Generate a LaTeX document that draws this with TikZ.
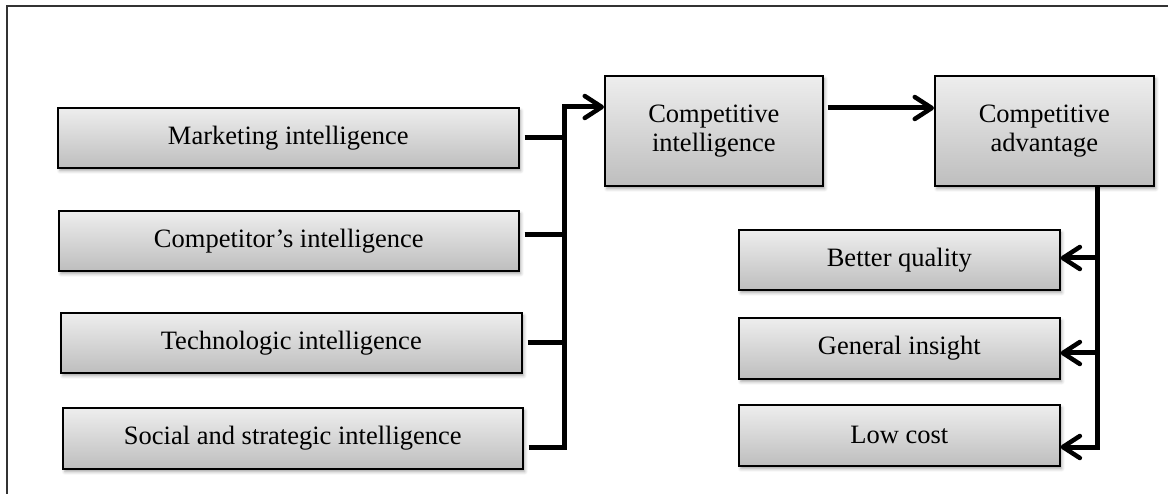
\documentclass[tikz,border=0pt]{standalone}
\usepackage{fontspec}
\setmainfont{Liberation Serif}
\usetikzlibrary{arrows.meta,shadows.blur}
\definecolor{boxtop}{RGB}{238,238,238}
\definecolor{boxbot}{RGB}{190,190,190}
\begin{document}
\begin{tikzpicture}[x=1pt,y=-1pt,
  box/.style={draw=black, line width=1.6pt, top color=boxtop, bottom color=boxbot,
    blur shadow={shadow xshift=2pt, shadow yshift=-3pt, shadow blur radius=3pt, shadow opacity=35},
    font=\fontsize{26.5}{29}\selectfont, align=center, inner sep=0pt, anchor=north west},
  conn/.style={line width=5pt, line cap=butt, line join=miter},
  arr/.style={conn, -{Straight Barb[length=17pt,width=22pt,line width=4.5pt,round]}}
]
\useasboundingbox (0,0) rectangle (1168,494);
% frame
\draw[line width=1.2pt, black!80] (7,494) -- (7,6) -- (1168,6);

% left boxes
\node[box, minimum width=461pt, minimum height=60pt] (mk) at (57,107) {Marketing intelligence};
\node[box, minimum width=460pt, minimum height=60pt] (cp) at (58,210) {Competitor’s intelligence};
\node[box, minimum width=461pt, minimum height=60pt] (tc) at (60,312) {Technologic intelligence};
\node[box, minimum width=460pt, minimum height=61pt] (sc) at (62,407) {Social and strategic intelligence};

% middle and right top boxes
\node[box, minimum width=218pt, minimum height=110pt] (ci) at (604,75) {Competitive\\intelligence};
\node[box, minimum width=219pt, minimum height=110pt] (ca) at (934,75) {Competitive\\advantage};

% right boxes
\node[box, minimum width=321pt, minimum height=60pt] (bq) at (738,229) {Better quality};
\node[box, minimum width=321pt, minimum height=61pt] (gi) at (738,317) {General insight};
\node[box, minimum width=321pt, minimum height=61pt] (lc) at (738,404) {Low cost};

% bus coordinates
\coordinate (bus) at (564,107);
\coordinate (bot) at (564,447);
\coordinate (cpy) at (0,235);
\coordinate (tcy) at (0,343);

\draw[arr] ([xshift=5pt]sc.east |- bot) -- (bot) -- (bus) -- (ci.west |- bus);
\draw[conn] ([xshift=5pt]mk.east) -- (bus |- mk.east);
\draw[conn] ([xshift=5pt]cp.east |- cpy) -- (bus |- cpy);
\draw[conn] ([xshift=5pt]tc.east |- tcy) -- (bus |- tcy);

% CI -> CA
\coordinate (cay) at (0,108);
\draw[arr] ([xshift=4pt]ci.east |- cay) -- (ca.west |- cay);

% right bus
\coordinate (rb) at (1097,447);
\coordinate (bqy) at (0,258);
\coordinate (giy) at (0,353);
\draw[arr] (rb |- ca.south) -- (rb) -- (lc.east |- rb);
\draw[arr] (rb |- bqy) -- (bq.east |- bqy);
\draw[arr] (rb |- giy) -- (gi.east |- giy);
\end{tikzpicture}
\end{document}
